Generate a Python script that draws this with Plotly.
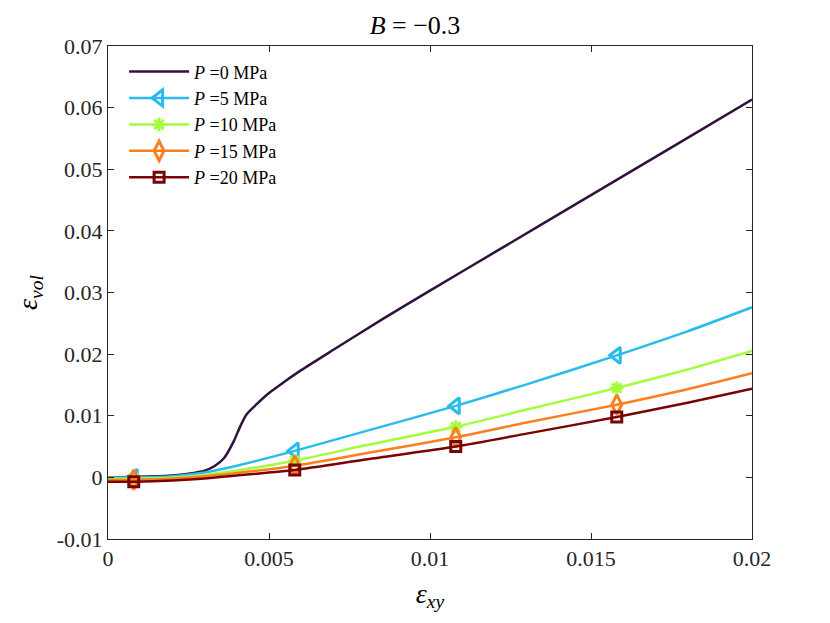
import plotly.graph_objects as go

# P = 0 MPa curve (no markers)
x0 = [0, 0.001, 0.002, 0.0025, 0.003, 0.0033, 0.0036, 0.0039, 0.0041, 0.0043,
      0.0046, 0.005, 0.0055, 0.006, 0.007, 0.0085, 0.01, 0.012, 0.015, 0.018, 0.02]
y0 = [0, 0.0001, 0.0003, 0.0006, 0.0011, 0.0018, 0.0031, 0.0058, 0.0082, 0.0102,
      0.0118, 0.0137, 0.0156, 0.0174, 0.0207, 0.0256, 0.0303, 0.0365, 0.0458, 0.0551, 0.0613]

# P = 5..20 MPa curves share one x grid
xp = [0, 0.0008, 0.002, 0.003, 0.004, 0.0058, 0.008, 0.0108, 0.013, 0.0158, 0.018, 0.02]
y5 = [0.0000, 0.0000, 0.0002, 0.0008, 0.0019, 0.0043, 0.0075, 0.0116, 0.0151, 0.0198, 0.0237, 0.0276]
y10 = [-0.0002, -0.0002, 0.0000, 0.0004, 0.0011, 0.0027, 0.0052, 0.0082, 0.0110, 0.0145, 0.0175, 0.0205]
y15 = [-0.0004, -0.0004, -0.0002, 0.0002, 0.0007, 0.0019, 0.0039, 0.0065, 0.0089, 0.0118, 0.0143, 0.0169]
y20 = [-0.0007, -0.0007, -0.0005, -0.0002, 0.0003, 0.0012, 0.0029, 0.0050, 0.0071, 0.0098, 0.0121, 0.0144]

# marker positions
mk_x = [0.0008, 0.0058, 0.0108, 0.0158]

yticks = [-0.01, 0, 0.01, 0.02, 0.03, 0.04, 0.05, 0.06, 0.07]
ytext = ["-0.01", "0", "0.01", "0.02", "0.03", "0.04", "0.05", "0.06", "0.07"]
xticks = [0, 0.005, 0.01, 0.015, 0.02]
xtext = ["0", "0.005", "0.01", "0.015", "0.02"]

serif = "Liberation Serif, Times New Roman, serif"

fig = go.Figure()

fig.add_trace(go.Scatter(x=x0, y=y0, mode="lines", name="<i>P</i> =0 MPa",
                         line=dict(color="#30123b", width=2.5, shape="spline", smoothing=0.6)))

series = [
    (y5, "<i>P</i> =5 MPa", "#28bceb", "triangle-left-open", 14),
    (y10, "<i>P</i> =10 MPa", "#a4fc3c", "asterisk-open", 11),
    (y15, "<i>P</i> =15 MPa", "#fb7e21", "diamond-tall-open", 14),
    (y20, "<i>P</i> =20 MPa", "#7a0403", "square-open", 10),
]
for ys, name, col, sym, sz in series:
    fig.add_trace(go.Scatter(
        x=xp, y=ys, mode="lines", name=name, showlegend=False,
        line=dict(color=col, width=2.5, shape="spline", smoothing=0.6),
    ))
    fig.add_trace(go.Scatter(
        x=mk_x, y=[ys[xp.index(x)] for x in mk_x], mode="markers", name=name, showlegend=False,
        marker=dict(symbol=sym, size=sz, color=col, line=dict(color=col, width=3)),
    ))
    # legend entry only
    fig.add_trace(go.Scatter(
        x=[None], y=[None], mode="lines+markers", name=name,
        line=dict(color=col, width=2.5),
        marker=dict(symbol=sym, size=sz, color=col, line=dict(color=col, width=3)),
    ))

# the page body has an 8px margin, so the figure is drawn 8px smaller
fig.update_layout(
    width=814, height=607,
    paper_bgcolor="white", plot_bgcolor="white",
    margin=dict(l=100, r=70, t=38, b=73),
    font=dict(family=serif, size=22, color="#262626"),
    title=dict(text="<i>B</i> = \u22120.3", x=0.5, xanchor="center", y=0.972,
               yanchor="middle", font=dict(family=serif, size=26, color="black")),
    showlegend=True,
    legend=dict(x=0.025, y=0.985, xanchor="left", yanchor="top",
                bgcolor="rgba(255,255,255,0)", borderwidth=0,
                font=dict(family=serif, size=18, color="black"),
                tracegroupgap=0, itemwidth=60),
)

fig.update_xaxes(
    range=[0, 0.02], tickvals=xticks, ticktext=xtext,
    showline=True, linecolor="#262626", linewidth=1, mirror="ticks",
    ticks="inside", ticklen=6, tickcolor="#262626", showgrid=False, zeroline=False,
    title=dict(text="<i>\u03b5<sub>xy</sub></i>", font=dict(size=28, color="black"), standoff=12),
)
fig.update_yaxes(
    range=[-0.01, 0.07], tickvals=yticks, ticktext=ytext,
    showline=True, linecolor="#262626", linewidth=1, mirror="ticks",
    ticks="inside", ticklen=6, tickcolor="#262626", showgrid=False, zeroline=False,
    title=dict(text="<i>\u03b5<sub>vol</sub></i>", font=dict(size=28, color="black"), standoff=10),
)

fig.write_html("out.html")
